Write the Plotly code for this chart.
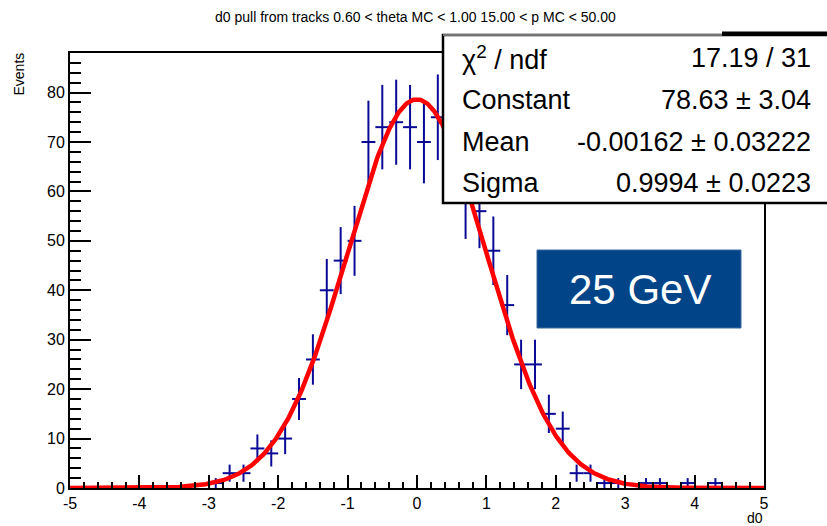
import numpy as np
import plotly.graph_objects as go

# ---- data ----
bin_centers = [-2.9, -2.7, -2.5, -2.3, -2.1, -1.9, -1.7, -1.5, -1.3, -1.1, -0.9,
               -0.7, -0.5, -0.3, -0.1, 0.1, 0.3, 0.5, 0.7, 0.9, 1.1, 1.3, 1.5,
               1.7, 1.9, 2.1, 2.3, 2.5, 2.7, 2.9, 3.3, 3.5, 3.9, 4.3]
counts = [1, 3, 3, 8, 7, 10, 18, 26, 40, 46, 50,
          70, 73, 74, 73, 70, 75, 68, 58, 56, 48, 37, 25,
          25, 15, 12, 3, 3, 1, 1, 1, 1, 1, 1]
bin_half_width = 0.1

fit_constant = 78.63
fit_mean = -0.00162
fit_sigma = 0.9994

x_tickvals = [-5, -4, -3, -2, -1, 0, 1, 2, 3, 4, 5]
x_ticktext = ["-5", "-4", "-3", "-2", "-1", "0", "1", "2", "3", "4", "5"]
y_tickvals = [0, 10, 20, 30, 40, 50, 60, 70, 80]
y_ticktext = ["0", "10", "20", "30", "40", "50", "60", "70", "80"]

title_text = "d0 pull from tracks 0.60 < theta MC < 1.00 15.00 < p MC < 50.00"
stats_labels = ["χ<sup>2</sup> / ndf", "Constant", "Mean", "Sigma"]
stats_values = ["17.19 / 31", "78.63 ± 3.04", "-0.00162 ± 0.03222", "0.9994 ± 0.0223"]
badge_text = "25 GeV"

# ---- layout geometry (pixels) ----
W, H = 827, 526
L, R, T, B = 70, 764, 53, 488  # plot frame in pixels


def px(x):
    return (x - L) / (R - L)


def py(y):
    return (B - y) / (B - T)


FONT = "Liberation Sans, Arial, Helvetica, sans-serif"

fig = go.Figure()

errs = [float(np.sqrt(c)) for c in counts]
fig.add_trace(go.Scatter(
    x=bin_centers, y=counts, mode="markers",
    marker=dict(size=1, color="#0a0a96"),
    error_y=dict(type="data", array=errs, width=0, thickness=2, color="#0a0a96"),
    error_x=dict(type="constant", value=bin_half_width, width=0, thickness=2, color="#0a0a96"),
    showlegend=False, hoverinfo="skip",
))

xf = np.linspace(-5, 5, 600)
yf = fit_constant * np.exp(-0.5 * ((xf - fit_mean) / fit_sigma) ** 2)
fig.add_trace(go.Scatter(
    x=xf, y=yf, mode="lines", line=dict(color="#ff0000", width=4.5),
    showlegend=False, hoverinfo="skip",
))

shapes = []
annotations = []

# stats box
shapes.append(dict(type="rect", xref="paper", yref="paper",
                   x0=px(443), x1=px(840), y0=py(203), y1=py(35),
                   fillcolor="white", line=dict(color="black", width=2.5), layer="above"))
shapes.append(dict(type="line", xref="paper", yref="paper",
                   x0=px(443), x1=px(722), y0=py(35), y1=py(35),
                   line=dict(color="#9a9a9a", width=1.5), layer="above"))
shapes.append(dict(type="line", xref="paper", yref="paper",
                   x0=px(722), x1=px(840), y0=py(33), y1=py(33),
                   line=dict(color="black", width=3), layer="above"))

row_y = [58, 100, 142, 183]
for lab, val, yy in zip(stats_labels, stats_values, row_y):
    annotations.append(dict(xref="paper", yref="paper", x=px(460), y=py(yy),
                            text=lab, showarrow=False, xanchor="left", yanchor="middle",
                            font=dict(family=FONT, size=27, color="black")))
    annotations.append(dict(xref="paper", yref="paper", x=px(813), y=py(yy),
                            text=val, showarrow=False, xanchor="right", yanchor="middle",
                            font=dict(family=FONT, size=27, color="black")))

# 25 GeV badge
shapes.append(dict(type="rect", xref="paper", yref="paper",
                   x0=px(537), x1=px(741), y0=py(328), y1=py(250),
                   fillcolor="#024488", line=dict(color="#3a6aa0", width=1), layer="above"))
annotations.append(dict(xref="paper", yref="paper", x=px(640), y=py(289),
                        text=badge_text, showarrow=False, xanchor="center", yanchor="middle",
                        font=dict(family=FONT, size=42, color="white")))

# title
annotations.append(dict(xref="paper", yref="paper", x=px(415), y=py(17),
                        text=title_text, showarrow=False, xanchor="center", yanchor="middle",
                        font=dict(family=FONT, size=14, color="black")))
# axis titles
annotations.append(dict(xref="paper", yref="paper", x=px(19), y=py(51),
                        text="Events", showarrow=False, xanchor="center", yanchor="top",
                        textangle=-90, font=dict(family=FONT, size=14, color="black")))
annotations.append(dict(xref="paper", yref="paper", x=px(765), y=py(518),
                        text="d0", showarrow=False, xanchor="right", yanchor="middle",
                        font=dict(family=FONT, size=14, color="black")))

fig.update_layout(
    width=W, height=H, autosize=False,
    margin=dict(l=L, r=W - R, t=T, b=H - B, pad=0),
    paper_bgcolor="white", plot_bgcolor="white",
    shapes=shapes, annotations=annotations,
    font=dict(family=FONT, size=16, color="black"),
)
fig.update_xaxes(
    range=[-5, 5], tickmode="array", tickvals=x_tickvals, ticktext=x_ticktext,
    ticks="inside", ticklen=13, tickwidth=2,
    tickcolor="black", showline=True, linecolor="black", linewidth=2, mirror=True,
    showgrid=False, zeroline=False,
    minor=dict(ticks="inside", dtick=0.2, tick0=-5, ticklen=6, tickwidth=2, tickcolor="black", showgrid=False),
    tickfont=dict(family=FONT, size=16),
)
fig.update_yaxes(
    range=[0, 88], tickmode="array", tickvals=y_tickvals, ticktext=y_ticktext,
    ticks="inside", ticklen=21, tickwidth=2,
    tickcolor="black", showline=True, linecolor="black", linewidth=2, mirror=True,
    showgrid=False, zeroline=False,
    minor=dict(ticks="inside", dtick=2, tick0=0, ticklen=11, tickwidth=2, tickcolor="black", showgrid=False),
    tickfont=dict(family=FONT, size=16),
)

fig.write_html("out.html", config={"displayModeBar": False},
               post_script="document.body.style.margin='0';document.body.style.overflow='hidden';")
